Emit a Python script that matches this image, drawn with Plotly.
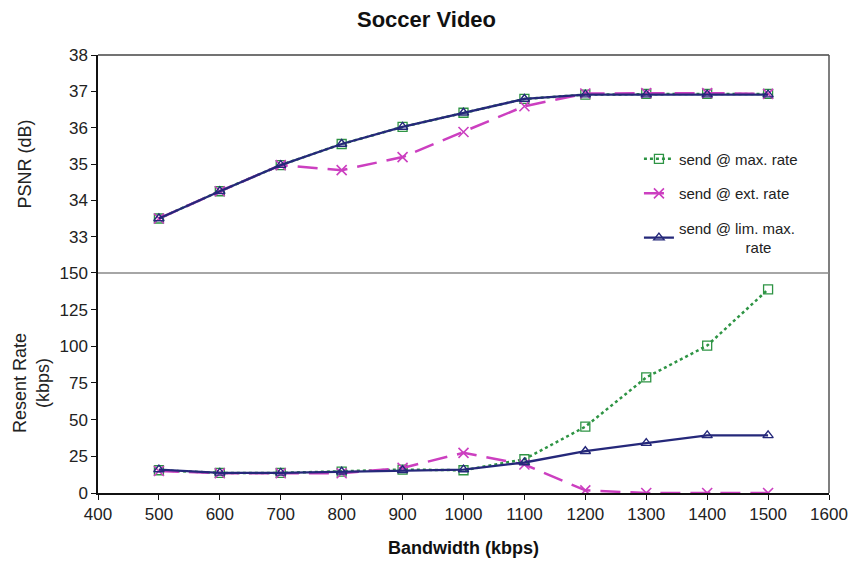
import plotly.graph_objects as go

# Bandwidth (kbps)
bandwidth = [500, 600, 700, 800, 900, 1000, 1100, 1200, 1300, 1400, 1500]

# PSNR (dB)
psnr_max = [33.5, 34.25, 34.97, 35.55, 36.02, 36.41, 36.79, 36.91, 36.93, 36.93, 36.93]
psnr_ext = [33.5, 34.25, 34.97, 34.83, 35.19, 35.88, 36.59, 36.94, 36.95, 36.95, 36.93]
psnr_lim = [33.5, 34.25, 34.97, 35.55, 36.02, 36.41, 36.79, 36.91, 36.91, 36.91, 36.91]

# Resent rate (kbps)
resent_max = [15.5, 13.7, 13.7, 14.6, 16.0, 15.5, 23.0, 45.2, 78.8, 100.5, 138.8]
resent_ext = [15.0, 13.5, 13.5, 13.5, 17.1, 27.4, 19.4, 1.8, 0.0, 0.0, 0.0]
resent_lim = [16.0, 13.7, 13.7, 14.5, 15.5, 16.0, 20.8, 28.5, 34.0, 39.3, 39.3]

names = ["send @ max. rate", "send @ ext. rate",
         "send @ lim. max.<br>\u00a0\u00a0\u00a0\u00a0\u00a0\u00a0\u00a0\u00a0\u00a0\u00a0\u00a0\u00a0\u00a0\u00a0\u00a0\u00a0rate"]

GREEN = "#2E9444"
MAGENTA = "#CC3FC0"
NAVY = "#25287A"
FONT = "Liberation Sans, Arial, sans-serif"

styles = [
    dict(line=dict(color=GREEN, width=2.5, dash="dot"),
         marker=dict(symbol="square-open", size=9, color=GREEN, line=dict(width=1.3))),
    dict(line=dict(color=MAGENTA, width=2.5, dash="20px,10px"),
         marker=dict(symbol="x-thin-open", size=10, color=MAGENTA, line=dict(width=1.6, color=MAGENTA))),
    dict(line=dict(color=NAVY, width=2.3),
         marker=dict(symbol="triangle-up-open", size=9, color=NAVY, line=dict(width=1.4))),
]

fig = go.Figure()

for i, (ys, name) in enumerate(zip([psnr_max, psnr_ext, psnr_lim], names)):
    fig.add_trace(go.Scatter(x=bandwidth, y=ys, name=name, mode="lines+markers",
                             xaxis="x2", yaxis="y2", legendgroup=str(i), **styles[i]))

for i, ys in enumerate([resent_max, resent_ext, resent_lim]):
    fig.add_trace(go.Scatter(x=bandwidth, y=ys, mode="lines+markers", showlegend=False,
                             xaxis="x", yaxis="y", legendgroup=str(i), **styles[i]))

split = 0.5023
tickfont = dict(family=FONT, size=17, color="#222")

fig.update_layout(
    width=853, height=565,
    margin=dict(l=98, r=24, t=55, b=72),
    paper_bgcolor="white", plot_bgcolor="white",
    font=dict(family=FONT, color="#222"),
    title=dict(text="<b>Soccer Video</b>", x=0.5, xanchor="center", y=0.965, yanchor="middle",
               font=dict(family=FONT, size=22, color="#111"), automargin=False),
    xaxis=dict(domain=[0, 1], range=[400, 1600], dtick=100, showgrid=False, zeroline=False,
               showline=True, linecolor="#111", linewidth=1.5, ticks="outside", ticklen=5,
               tickcolor="#111", tickfont=tickfont, anchor="y", automargin=False,
               ticklabeloverflow="allow",
               title=dict(text="<b>Bandwidth (kbps)</b>", font=dict(family=FONT, size=18, color="#111"),
                          standoff=18)),
    xaxis2=dict(domain=[0, 1], range=[400, 1600], showgrid=False, zeroline=False,
                showticklabels=False, showline=False, anchor="y2", matches="x", automargin=False),
    yaxis=dict(domain=[0, split], range=[0, 150], tickvals=[0, 25, 50, 75, 100, 125, 150],
               showgrid=False, zeroline=False, showline=True, linecolor="#111", linewidth=1.5,
               ticks="outside", ticklen=5, tickcolor="#111", tickfont=tickfont, anchor="x",
               automargin=False,
               title=dict(text="Resent Rate<br>(kbps)", font=dict(family=FONT, size=18, color="#222"),
                          standoff=5)),
    yaxis2=dict(domain=[split, 1], range=[32, 38], tickvals=[33, 34, 35, 36, 37, 38],
                showgrid=False, zeroline=False, showline=True, linecolor="#111", linewidth=1.5,
                ticks="outside", ticklen=5, tickcolor="#111", tickfont=tickfont, anchor="x2",
                automargin=False,
                title=dict(text="PSNR (dB)", font=dict(family=FONT, size=18, color="#222"),
                           standoff=33)),
    legend=dict(x=0.740, y=0.80, xanchor="left", yanchor="top", bgcolor="rgba(0,0,0,0)",
                font=dict(family=FONT, size=15, color="#222"), tracegroupgap=12,
                traceorder="grouped", itemwidth=30),
    shapes=[
        dict(type="line", xref="paper", yref="paper", x0=0, x1=1, y0=1, y1=1,
             line=dict(color="#444", width=1.5)),
        dict(type="line", xref="paper", yref="paper", x0=1, x1=1, y0=0, y1=1,
             line=dict(color="#555", width=1.5)),
        dict(type="line", xref="paper", yref="paper", x0=0, x1=1, y0=split, y1=split,
             line=dict(color="#888", width=1.5)),
    ],
)

fig.write_html("out.html")
